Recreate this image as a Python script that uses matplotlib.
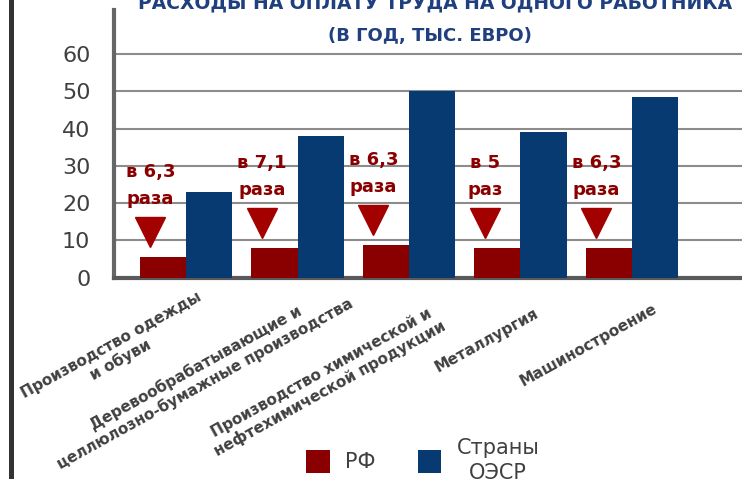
import matplotlib
matplotlib.use("Agg")
import matplotlib.pyplot as plt
from matplotlib.patches import Patch
from matplotlib.lines import Line2D
import matplotlib.transforms as mtransforms
import numpy as np

# ---- data ----
categories = [
    "Производство одежды\nи обуви",
    "Деревообрабатывающие и\nцеллюлозно-бумажные производства",
    "Производство химической и\nнефтехимической продукции",
    "Металлургия",
    "Машиностроение",
]
rf_values = [5.5, 8.0, 8.8, 8.0, 8.0]
oecd_values = [23.0, 38.0, 50.0, 39.0, 48.5]
ratio_labels = ["в 6,3\nраза", "в 7,1\nраза", "в 6,3\nраза", "в 5\nраз", "в 6,3\nраза"]
y_ticks = [0, 10, 20, 30, 40, 50, 60]
series_names = ["РФ", "Страны\nОЭСР"]
title_line1 = "РАСХОДЫ НА ОПЛАТУ ТРУДА НА ОДНОГО РАБОТНИКА"
title_line2 = "(В ГОД, ТЫС. ЕВРО)"

# ---- layout / style ----
RED = "#8a0000"
BLUE = "#063a70"
TRI = "#a30000"
TXT = "#404040"
NAVY = "#1f3f7f"
# pixel offsets (from group centre, axis bottom) for category label centres
label_offsets_px = [(-70, -75), (-97, -98), (-83, -103), (-34, -63), (-43, -68)]

fig = plt.figure(figsize=(7.42, 4.79), dpi=100)
ax = fig.add_axes([114 / 742, 1 - 277.5 / 479, 1 - 114 / 742, (277.5 - 10) / 479])

x = np.arange(len(categories))
w = 0.413
ax.bar(x - w / 2, rf_values, width=w, color=RED, zorder=3)
ax.bar(x + w / 2, oecd_values, width=w, color=BLUE, zorder=3)

ax.set_xlim(-0.646, 4.987)
ax.set_ylim(0, 71.9)
ax.set_yticks(y_ticks)
ax.set_yticklabels([str(v) for v in y_ticks], fontsize=16, color=TXT)
ax.tick_params(axis="y", length=0, pad=17)
ax.set_xticks([])
ax.yaxis.grid(True, color="#8c8c8c", linewidth=1.5, zorder=0)
ax.set_axisbelow(True)
for s in ["top", "right"]:
    ax.spines[s].set_visible(False)
ax.spines["left"].set_color("#666666")
ax.spines["left"].set_linewidth(3)
ax.spines["bottom"].set_color("#5a5a5a")
ax.spines["bottom"].set_linewidth(3)

# triangles and ratio labels
tri_x = x - 0.32
tri_tr = ax.transData + mtransforms.ScaledTranslation(0, 25 / 100, fig.dpi_scale_trans)
ax.plot(tri_x, rf_values, linestyle="none", marker="v", markersize=22,
        color=TRI, transform=tri_tr, zorder=4, clip_on=False)
for xi, rv, lab in zip(tri_x, rf_values, ratio_labels):
    ax.annotate(lab, xy=(xi, rv), xycoords="data", xytext=(0, 49),
                textcoords="offset pixels", ha="center", va="bottom",
                fontsize=13, fontweight="bold", color=RED, linespacing=1.65,
                zorder=5)

# category labels
blend = mtransforms.blended_transform_factory(ax.transData, ax.transAxes)
for xi, lab, (dx, dy) in zip(x, categories, label_offsets_px):
    t = ax.annotate(lab, xy=(xi, 0), xycoords=blend, xytext=(dx, dy),
                    textcoords="offset pixels", ha="center", va="center",
                    rotation=29, rotation_mode="anchor", fontsize=11,
                    fontweight="bold", color=TXT, linespacing=1.15,
                    annotation_clip=False)
    t.set_multialignment("center")

# title
fig.text(435 / 742, 1 - 8 / 479, title_line1, ha="center", va="baseline",
         fontsize=13.5, fontweight="bold", color=NAVY)
fig.text(430 / 742, 1 - 41.5 / 479, title_line2, ha="center", va="baseline",
         fontsize=13, fontweight="bold", color=NAVY)

# legend
handles = [Patch(facecolor=RED, edgecolor="none"), Patch(facecolor=BLUE, edgecolor="none")]
leg = fig.legend(handles, series_names, loc="center", bbox_to_anchor=(423 / 742, 1 - 460.5 / 479),
                 ncol=2, frameon=False, fontsize=15, handlelength=1.13, handleheight=1.29,
                 handletextpad=0.75, columnspacing=2.0, borderpad=0, borderaxespad=0)
for t in leg.get_texts():
    t.set_color(TXT)
    t.set_multialignment("center")
    t.set_linespacing(1.3)

# left black border
fig.add_artist(Line2D([10.5 / 742, 10.5 / 742], [0, 1], transform=fig.transFigure,
                      color="#333333", linewidth=3.6))

fig.savefig("out.png", dpi=100)
